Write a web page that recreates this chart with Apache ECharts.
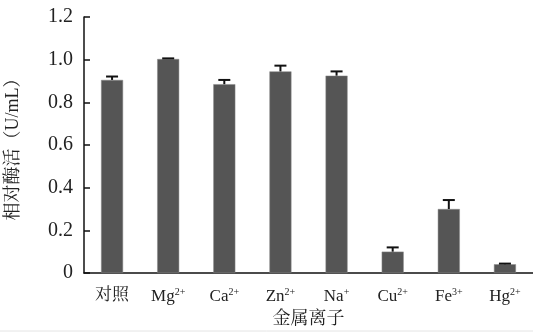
<!DOCTYPE html>
<html><head><meta charset="utf-8">
<script src="https://cdn.jsdelivr.net/npm/echarts@6/dist/echarts.min.js"></script>
<style>html,body{margin:0;padding:0;background:#fff;}#c{width:533px;height:333px;}</style>
</head><body><div id="c"></div>
<script>
var categories = ['对照', 'Mg2+', 'Ca2+', 'Zn2+', 'Na+', 'Cu2+', 'Fe3+', 'Hg2+'];
var labelBase = ['对照', 'Mg', 'Ca', 'Zn', 'Na', 'Cu', 'Fe', 'Hg'];
var labelSup = ['', '2+', '2+', '2+', '+', '2+', '3+', '2+'];
var values = [0.905, 1.003, 0.885, 0.945, 0.925, 0.10, 0.30, 0.041];
var errors = [0.016, 0.003, 0.02, 0.027, 0.02, 0.02, 0.042, 0.003];
var yTicks = [0, 0.2, 0.4, 0.6, 0.8, 1.0, 1.2];

var serif = '"Liberation Serif","Noto Serif CJK SC","Noto Sans CJK SC",serif';
var chart = echarts.init(document.getElementById('c'));
chart.setOption({
  animation: false,
  backgroundColor: '#fff',
  grid: {left: 84, right: 0, top: 17, bottom: 60, containLabel: false, outerBoundsMode: 'none'},
  xAxis: {
    type: 'category',
    data: categories,
    name: '金属离子',
    nameLocation: 'middle',
    nameGap: 37,
    nameTextStyle: {fontFamily: serif, fontSize: 18, color: '#222'},
    axisLine: {lineStyle: {color: '#111', width: 1.5}},
    axisTick: {inside: true, length: 6, lineStyle: {color: '#111', width: 1.5}},
    axisLabel: {
      interval: 0,
      margin: 14,
      formatter: function (v, i) {
        return '{b|' + labelBase[i] + '}' + (labelSup[i] ? '{s|' + labelSup[i] + '}' : '');
      },
      rich: {
        b: {fontFamily: serif, fontSize: 17, color: '#222'},
        s: {fontFamily: serif, fontSize: 10, color: '#222', verticalAlign: 'top', padding: [0, 0, 10, 0]}
      }
    }
  },
  yAxis: {
    type: 'value',
    min: 0, max: 1.2, interval: 0.2,
    name: '相对酶活（U/mL）',
    nameLocation: 'middle',
    nameGap: 62,
    nameTextStyle: {fontFamily: serif, fontSize: 18, color: '#222'},
    axisLine: {show: true, lineStyle: {color: '#111', width: 1.5}},
    axisTick: {show: true, inside: true, length: 6, lineStyle: {color: '#111', width: 1.5}},
    splitLine: {show: false},
    axisLabel: {
      margin: 11,
      fontFamily: serif, fontSize: 20, color: '#222',
      formatter: function (v) { return v === 0 ? '0' : v.toFixed(1); }
    }
  },
  series: [{
    type: 'bar',
    data: values,
    barWidth: 22,
    itemStyle: {color: '#555555', borderColor: '#888', borderWidth: 0.5}
  }, {
    type: 'custom',
    z: 5,
    data: values.map(function (v, i) { return [i, v, errors[i]]; }),
    renderItem: function (params, api) {
      var x = api.value(0), v = api.value(1), e = api.value(2);
      var top = api.coord([x, v + e]);
      var base = api.coord([x, v]);
      var hw = 6;
      var style = {stroke: '#111', lineWidth: 2};
      return {type: 'group', children: [
        {type: 'line', shape: {x1: top[0], y1: top[1], x2: base[0], y2: base[1]}, style: style},
        {type: 'line', shape: {x1: top[0] - hw, y1: top[1], x2: top[0] + hw, y2: top[1]}, style: style}
      ]};
    }
  }],
  graphic: [{type: 'line', shape: {x1: 0, y1: 331, x2: 533, y2: 331}, style: {stroke: '#e4e4e4', lineWidth: 1}}]
});
</script></body></html>
